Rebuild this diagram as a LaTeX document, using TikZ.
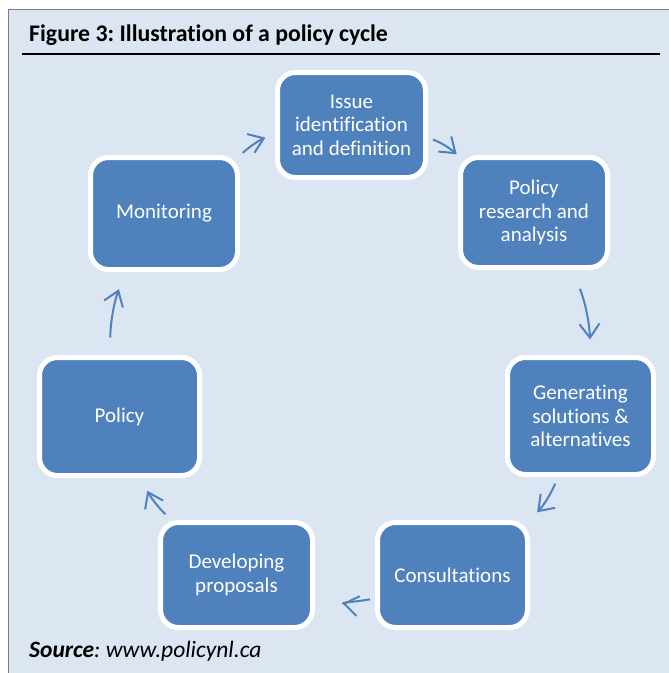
\documentclass[tikz,border=0pt]{standalone}
\usepackage{fontspec}
\setmainfont{Carlito}[Ligatures=NoCommon,RawFeature=-liga]
\frenchspacing
\usetikzlibrary{arrows.meta}
\definecolor{bg}{HTML}{DCE6F2}
\definecolor{blue}{HTML}{4F81BD}
\definecolor{frame}{HTML}{7F7F7F}
\tikzset{stage/.style={draw=white,line width=5pt,fill=blue,rounded corners=18pt,text=white,align=center,inner sep=0pt,outer sep=0pt,font=\fontsize{21}{23.5}\selectfont},
cyc/.style={blue,line width=2pt,-{Straight Barb[length=14pt,width=20pt]},bend left=10}}
\begin{document}
\begin{tikzpicture}[x=1pt,y=-1pt]
\useasboundingbox (0,0) rectangle (669,673);
\fill[bg] (9,10) rectangle (669,673);\draw[frame,line width=1.2pt] (8.5,673)--(8.5,9.5)--(669,9.5);
\node[anchor=base west,inner sep=0pt,font=\fontsize{23.8}{26}\selectfont\bfseries] (ttl) at (29,41){Figure 3: Illustration of a policy cycle};
\draw[line width=2pt] (22,54)--(660,54);
% the seven stages
\node[stage,minimum width=148pt,minimum height=105pt] (iss) at (351.5,125){Issue\\identification\\and definition};
\node[stage,minimum width=147pt,minimum height=110pt] (res) at (534,212.5){Policy\\research and\\analysis};
\node[stage,minimum width=146pt,minimum height=117pt] (gen) at (580.5,416){Generating\\solutions \&\\alternatives};
\node[stage,minimum width=150pt,minimum height=105pt] (con) at (452.5,575){Consultations};
\node[stage,minimum width=152pt,minimum height=105pt] (dev) at (236.5,575){Developing\\proposals};
\node[stage,minimum width=160pt,minimum height=118pt] (pol) at (119.5,416.5){Policy};
\node[stage,minimum width=147pt,minimum height=112pt] (mon) at (164,213.5){Monitoring};
% arrows round the cycle
\draw[cyc,shorten <=7pt,shorten >=13pt] (mon.north east) to (iss.186);
\draw[cyc,shorten <=8pt,shorten >=5pt] (iss.-9) to (res.north west);
\draw[cyc,shorten <=23pt,shorten >=18pt] (res.-56) to (gen.80);
\draw[cyc,shorten <=10pt,shorten >=14pt] (gen.-110) to (con.north east);
\draw[cyc,shorten <=7.5pt,shorten >=30.5pt] (con.197) to (dev.-17);
\draw[cyc,shorten <=12pt,shorten >=17pt] (dev.140) to (pol.-71);
\draw[cyc,shorten <=20pt,shorten >=21pt] (pol.99) to (mon.236);
\node[anchor=base west,inner sep=0pt,font=\fontsize{23.5}{26}\selectfont] (src) at (29,657){\textbf{\textit{Source}}\textit{: www.policynl.ca}};
\end{tikzpicture}
\end{document}
